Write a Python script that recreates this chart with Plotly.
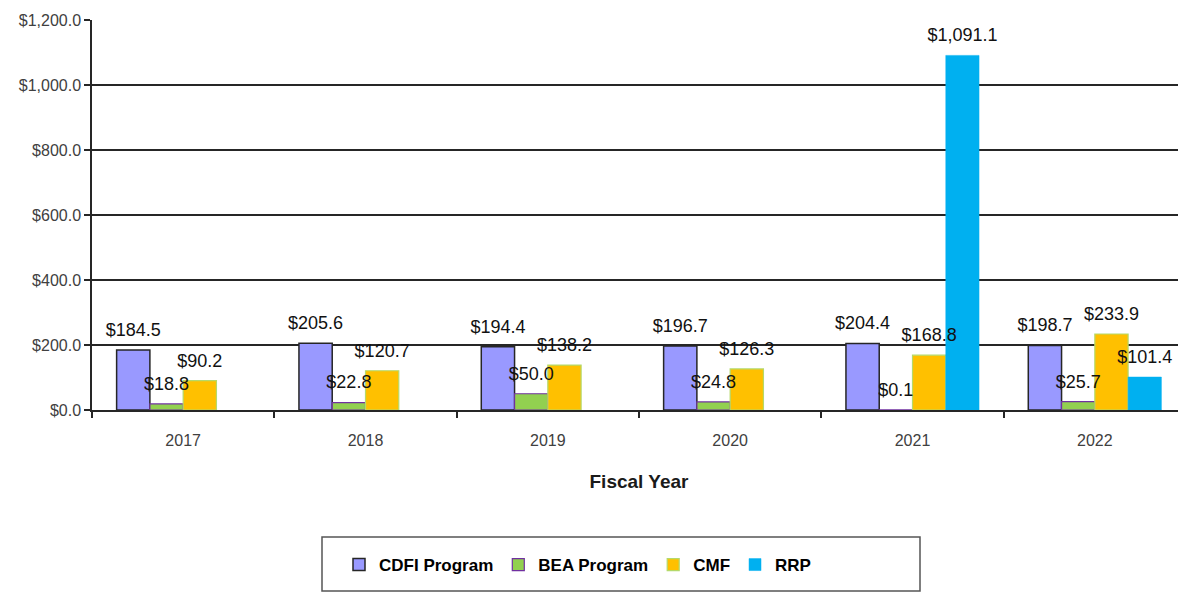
import plotly.graph_objects as go

years = ["2017", "2018", "2019", "2020", "2021", "2022"]
cdfi = [184.5, 205.6, 194.4, 196.7, 204.4, 198.7]
bea = [18.8, 22.8, 50.0, 24.8, 0.1, 25.7]
cmf = [90.2, 120.7, 138.2, 126.3, 168.8, 233.9]
rrp = [None, None, None, None, 1091.1, 101.4]

series_names = ["CDFI Program", "BEA Program", "CMF", "RRP"]
series_values = [cdfi, bea, cmf, rrp]
fills = ["#9999FF", "#92D050", "#FFC000", "#00B0F0"]
outlines = ["#262626", "#7030A0", "#B5D96A", "#00B0F0"]
outline_w = [1.5, 1.2, 1.2, 0.5]

# page body has an 8px margin; figure is sized/offset to compensate
OFF = 8
W, H = 1178, 585
ML, MR, MT, MB = 84, 0, 12, 183
FONT = "Liberation Sans, Arial, sans-serif"
LABEL_LIFT = 22  # extra gap (data units) between bar top and its label

fig = go.Figure()
# bars
for name, vals, fc, lc, lw in zip(series_names, series_values, fills, outlines, outline_w):
    fig.add_trace(go.Bar(
        x=years, y=vals, name=name, offsetgroup=name,
        marker=dict(color=fc, line=dict(color=lc, width=lw)),
        hoverinfo="skip",
    ))
# data labels drawn on top of all bars
for name, vals in zip(series_names, series_values):
    fig.add_trace(go.Bar(
        x=years, y=vals, base=LABEL_LIFT, name=name + " labels", offsetgroup=name,
        showlegend=False, text=vals,
        marker=dict(color="rgba(0,0,0,0)", line=dict(width=0)),
        texttemplate="%{text:$,.1f}", textposition="outside",
        textangle=0, constraintext="none", cliponaxis=False,
        textfont=dict(family=FONT, size=18, color="#111111"),
        hoverinfo="skip",
    ))

pw = W - ML - MR
ph = H - MT - MB
plot_left_page = OFF + ML
plot_bottom_page = OFF + H - MB
def px_x(x):
    return (x - plot_left_page) / pw
def px_y(y):
    return (plot_bottom_page - y) / ph

fig.add_shape(type="rect", xref="paper", yref="paper",
              x0=px_x(322), x1=px_x(920), y0=px_y(537), y1=px_y(591),
              line=dict(color="#555555", width=1.5), fillcolor="rgba(0,0,0,0)")

fig.update_layout(
    width=W, height=H,
    margin=dict(l=ML, r=MR, t=MT, b=MB, autoexpand=False),
    paper_bgcolor="white", plot_bgcolor="white",
    barmode="group", bargap=0.27, bargroupgap=0,
    font=dict(family=FONT, color="#404040"),
    legend=dict(orientation="h", xref="container", yref="container",
                x=331 / W, xanchor="left", y=28 / H, yanchor="middle",
                font=dict(family=FONT, size=17, color="#000000", weight="bold"),
                bgcolor="rgba(0,0,0,0)", borderwidth=0),
    xaxis=dict(showline=True, linecolor="#262626", linewidth=1.5,
               automargin=False,
               ticks="outside", tickson="boundaries", ticklen=6,
               tickcolor="#262626", tickwidth=1.5,
               tickfont=dict(family=FONT, size=16, color="#404040"),
               ticklabelstandoff=15,
               title=dict(text="Fiscal Year", standoff=27,
                          font=dict(family=FONT, size=19, color="#1a1a1a", weight="bold"))),
    yaxis=dict(range=[0, 1200], dtick=200, tickformat="$,.1f",
               automargin=False,
               showline=True, linecolor="#262626", linewidth=1.5,
               ticks="outside", ticklen=6, tickcolor="#262626", tickwidth=1.5,
               showgrid=True, gridcolor="#262626", gridwidth=1.5,
               zeroline=False,
               tickfont=dict(family=FONT, size=16, color="#404040")),
)

fig.write_html("out.html")
